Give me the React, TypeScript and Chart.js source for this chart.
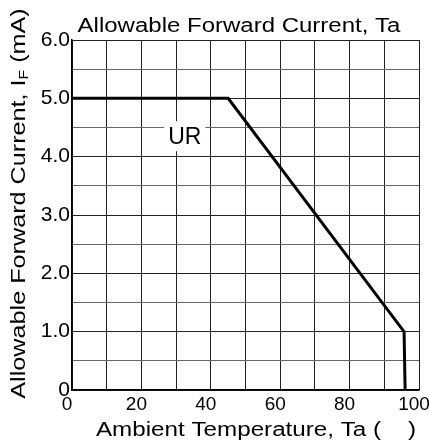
import React, { useEffect, useRef } from "react";
import { Chart, registerables } from "chart.js";

Chart.register(...registerables);

const tempPoints: number[] = [0, 45, 95.7, 96];
const currentPoints: number[] = [5.0, 5.0, 1.0, 0];
const xLabeled: number[] = [0, 20, 40, 60, 80, 100];
const yLabeled: number[] = [0, 1, 2, 3, 4, 5, 6];
const chartTitle = "Allowable Forward Current, Ta";
const xTitle = "Ambient Temperature, Ta (    )";
const yTitleMain = "Allowable Forward Current, I";
const yTitleSub = "F";
const yTitleEnd = " (mA)";
const seriesLabel = "UR";
const seriesLabelPos = { x: 32.5, y: 4.35 };

const FONT = "'Liberation Sans', Arial, sans-serif";

export default function App() {
  const ref = useRef<HTMLCanvasElement | null>(null);
  useEffect(() => {
    document.body.style.margin = "0";
    const canvas = ref.current;
    if (!canvas) return;

    const drawStretched = (ctx: any, text: string, cx: number, by: number, sx: number) => {
      ctx.save();
      ctx.translate(cx, by);
      ctx.scale(sx, 1);
      ctx.textAlign = "center";
      ctx.textBaseline = "alphabetic";
      ctx.fillText(text, 0, 0);
      ctx.restore();
    };

    const textPlugin = {
      id: "texts",
      beforeDatasetsDraw(chart: any) {
        const ctx = chart.ctx;
        const xs = chart.scales.x;
        const ys = chart.scales.y;
        const cx = xs.getPixelForValue(seriesLabelPos.x);
        const cy = ys.getPixelForValue(seriesLabelPos.y);
        ctx.save();
        ctx.font = `23px ${FONT}`;
        const w = ctx.measureText(seriesLabel).width;
        ctx.fillStyle = "#fff";
        ctx.fillRect(cx - w / 2 - 4, cy - 15, w + 8, 30);
        ctx.fillStyle = "#000";
        ctx.textAlign = "center";
        ctx.textBaseline = "middle";
        ctx.fillText(seriesLabel, cx, cy + 1);
        ctx.restore();
      },
      afterDraw(chart: any) {
        const ctx = chart.ctx;
        ctx.save();
        ctx.fillStyle = "#000";
        ctx.font = `20px ${FONT}`;
        drawStretched(ctx, chartTitle, 239, 31.5, 1.2);
        drawStretched(ctx, xTitle, 256, 436, 1.21);
        // y title with subscript
        ctx.translate(25, 203.5);
        ctx.rotate(-Math.PI / 2);
        ctx.scale(1.2, 1);
        ctx.textAlign = "left";
        ctx.textBaseline = "alphabetic";
        ctx.font = `21px ${FONT}`;
        const w1 = ctx.measureText(yTitleMain).width;
        const w3 = ctx.measureText(yTitleEnd).width;
        ctx.font = `13px ${FONT}`;
        const w2 = ctx.measureText(yTitleSub).width;
        const total = w1 + w2 + w3;
        let x = -total / 2;
        ctx.font = `21px ${FONT}`;
        ctx.fillText(yTitleMain, x, 0);
        x += w1;
        ctx.font = `13px ${FONT}`;
        ctx.fillText(yTitleSub, x, 3);
        x += w2;
        ctx.font = `21px ${FONT}`;
        ctx.fillText(yTitleEnd, x, 0);
        ctx.restore();
      },
    };

    const chart = new Chart(canvas, {
      type: "scatter",
      data: {
        datasets: [
          {
            label: seriesLabel,
            data: tempPoints.map((t, i) => ({ x: t, y: currentPoints[i] })),
            showLine: true,
            borderColor: "#000",
            borderWidth: 3,
            pointRadius: 0,
            fill: false,
            tension: 0,
          },
        ],
      },
      options: {
        animation: false,
        responsive: false,
        devicePixelRatio: 1,
        layout: { padding: { top: 40, right: 10, bottom: 0, left: 0 } },
        plugins: {
          legend: { display: false },
          title: { display: false },
          tooltip: { enabled: false },
        },
        scales: {
          x: {
            type: "linear",
            min: 0,
            max: 100,
            afterFit(scale: any) {
              scale.height = 56;
              scale.paddingLeft = 0;
              scale.paddingRight = 0;
            },
            afterBuildTicks(scale: any) {
              const t: any[] = [];
              for (let v = 0; v <= 100; v += 10) t.push({ value: v });
              scale.ticks = t;
            },
            ticks: {
              autoSkip: false,
              maxRotation: 0,
              padding: 3,
              labelOffset: -5,
              color: "#000",
              font: { family: FONT, size: 19 },
              callback: (v: any) => (xLabeled.includes(Number(v)) ? String(v) : ""),
            },
            grid: {
              drawTicks: false,
              color: "#222",
              lineWidth: 1,
            },
            border: { color: "#000", width: 1.5 },
          },
          y: {
            type: "linear",
            min: 0,
            max: 6,
            afterFit(scale: any) {
              scale.width = 72;
              scale.paddingTop = 0;
              scale.paddingBottom = 0;
            },
            afterBuildTicks(scale: any) {
              const t: any[] = [];
              for (let i = 0; i <= 12; i++) t.push({ value: i / 2 });
              scale.ticks = t;
            },
            ticks: {
              autoSkip: false,
              padding: 2,
              color: "#000",
              font: { family: FONT, size: 21 },
              callback: (v: any) => {
                const n = Number(v);
                if (!yLabeled.includes(n)) return "";
                return n === 0 ? "0" : n.toFixed(1);
              },
            },
            grid: {
              drawTicks: false,
              color: (c: any) =>
                Number.isInteger(c.tick?.value) ? "#222" : "#666",
              lineWidth: 1,
            },
            border: { color: "#000", width: 1.5 },
          },
        },
      },
      plugins: [textPlugin],
    });
    return () => chart.destroy();
  }, []);
  return (
    <div style={{ width: 429, height: 446 }}>
      <canvas ref={ref} width={429} height={446} style={{ display: "block" }} />
    </div>
  );
}
